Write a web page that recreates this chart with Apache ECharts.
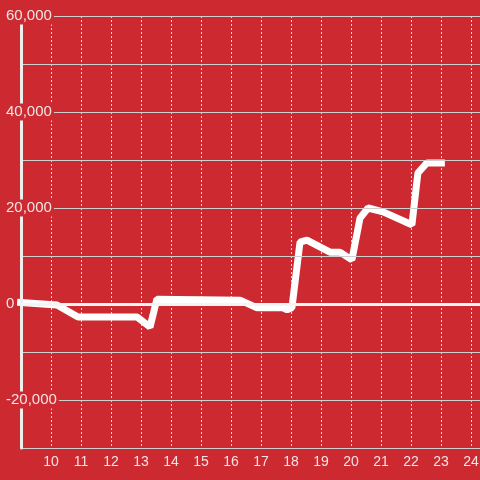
<!DOCTYPE html>
<html>
<head>
<meta charset="utf-8">
<script src="https://cdn.jsdelivr.net/npm/echarts@6/dist/echarts.min.js"></script>
<style>
  html, body { margin: 0; padding: 0; background: #cc2a30; }
  #chart { width: 480px; height: 480px; }
</style>
</head>
<body>
<div id="chart"></div>
<script>
// x values (hours) and y values
const xValues = [8.87, 10.2, 10.9, 12.87, 13.3, 13.53, 16.3, 16.87, 17.73, 17.87, 18.03, 18.3, 18.53, 19.3, 19.63, 20.03, 20.3, 20.57, 21.07, 22.03, 22.23, 22.53, 23.13]
const yValues = [350, -200, -2700, -2700, -4800, 1000, 800, -800, -800, -1200, -800, 12900, 13300, 10800, 10800, 9200, 17900, 20000, 19200, 16500, 27300, 29400, 29400]
const yLabelSteps = [60000, 40000, 20000, 0, -20000]

const bg = '#cc2a30'
const chart = echarts.init(document.getElementById('chart'))

const option = {
  backgroundColor: bg,
  animation: false,
  grid: { left: 21, right: 0, top: 16, bottom: 32, containLabel: false, outerBoundsMode: 'none' },
  xAxis: {
    type: 'value',
    min: 9,
    max: 24.3,
    interval: 1,
    axisLine: { show: true, onZero: false, lineStyle: { color: '#cfcfcf', width: 1 } },
    axisTick: { show: false },
    axisLabel: {
      showMinLabel: false,
      showMaxLabel: false,
      color: '#f4e4e4',
      fontSize: 14,
      fontFamily: 'Liberation Sans, Arial, sans-serif',
      margin: 7
    },
    splitLine: { show: true, lineStyle: { color: '#dddddd', width: 1, type: [2, 2] } }
  },
  yAxis: {
    type: 'value',
    min: -30000,
    max: 60000,
    interval: 10000,
    axisLine: { show: true, lineStyle: { color: '#eeeeee', width: 3 } },
    axisTick: { show: false },
    axisLabel: {
      align: 'left',
      margin: 17,
      color: '#f4e4e4',
      fontSize: 15,
      fontFamily: 'Liberation Sans, Arial, sans-serif',
      backgroundColor: bg,
      padding: [1, 2],
      formatter: (v) => yLabelSteps.includes(v) ? v.toLocaleString('en-US') : ''
    },
    splitLine: { show: true, lineStyle: { color: '#cfcfcf', width: 1 } },
    z: 3
  },
  series: [
    {
      // zero line, drawn under the data line
      type: 'line',
      data: [],
      z: 1,
      markLine: {
        silent: true,
        symbol: 'none',
        label: { show: false },
        lineStyle: { color: '#f4f4f4', width: 3, type: 'solid' },
        data: [{ yAxis: 0 }]
      }
    },
    {
      type: 'line',
      data: xValues.map((x, i) => [x, yValues[i]]),
      showSymbol: false,
      clip: false,
      lineStyle: { color: '#ffffff', width: 7 },
      z: 2
    }
  ]
}

chart.setOption(option)
</script>
</body>
</html>
